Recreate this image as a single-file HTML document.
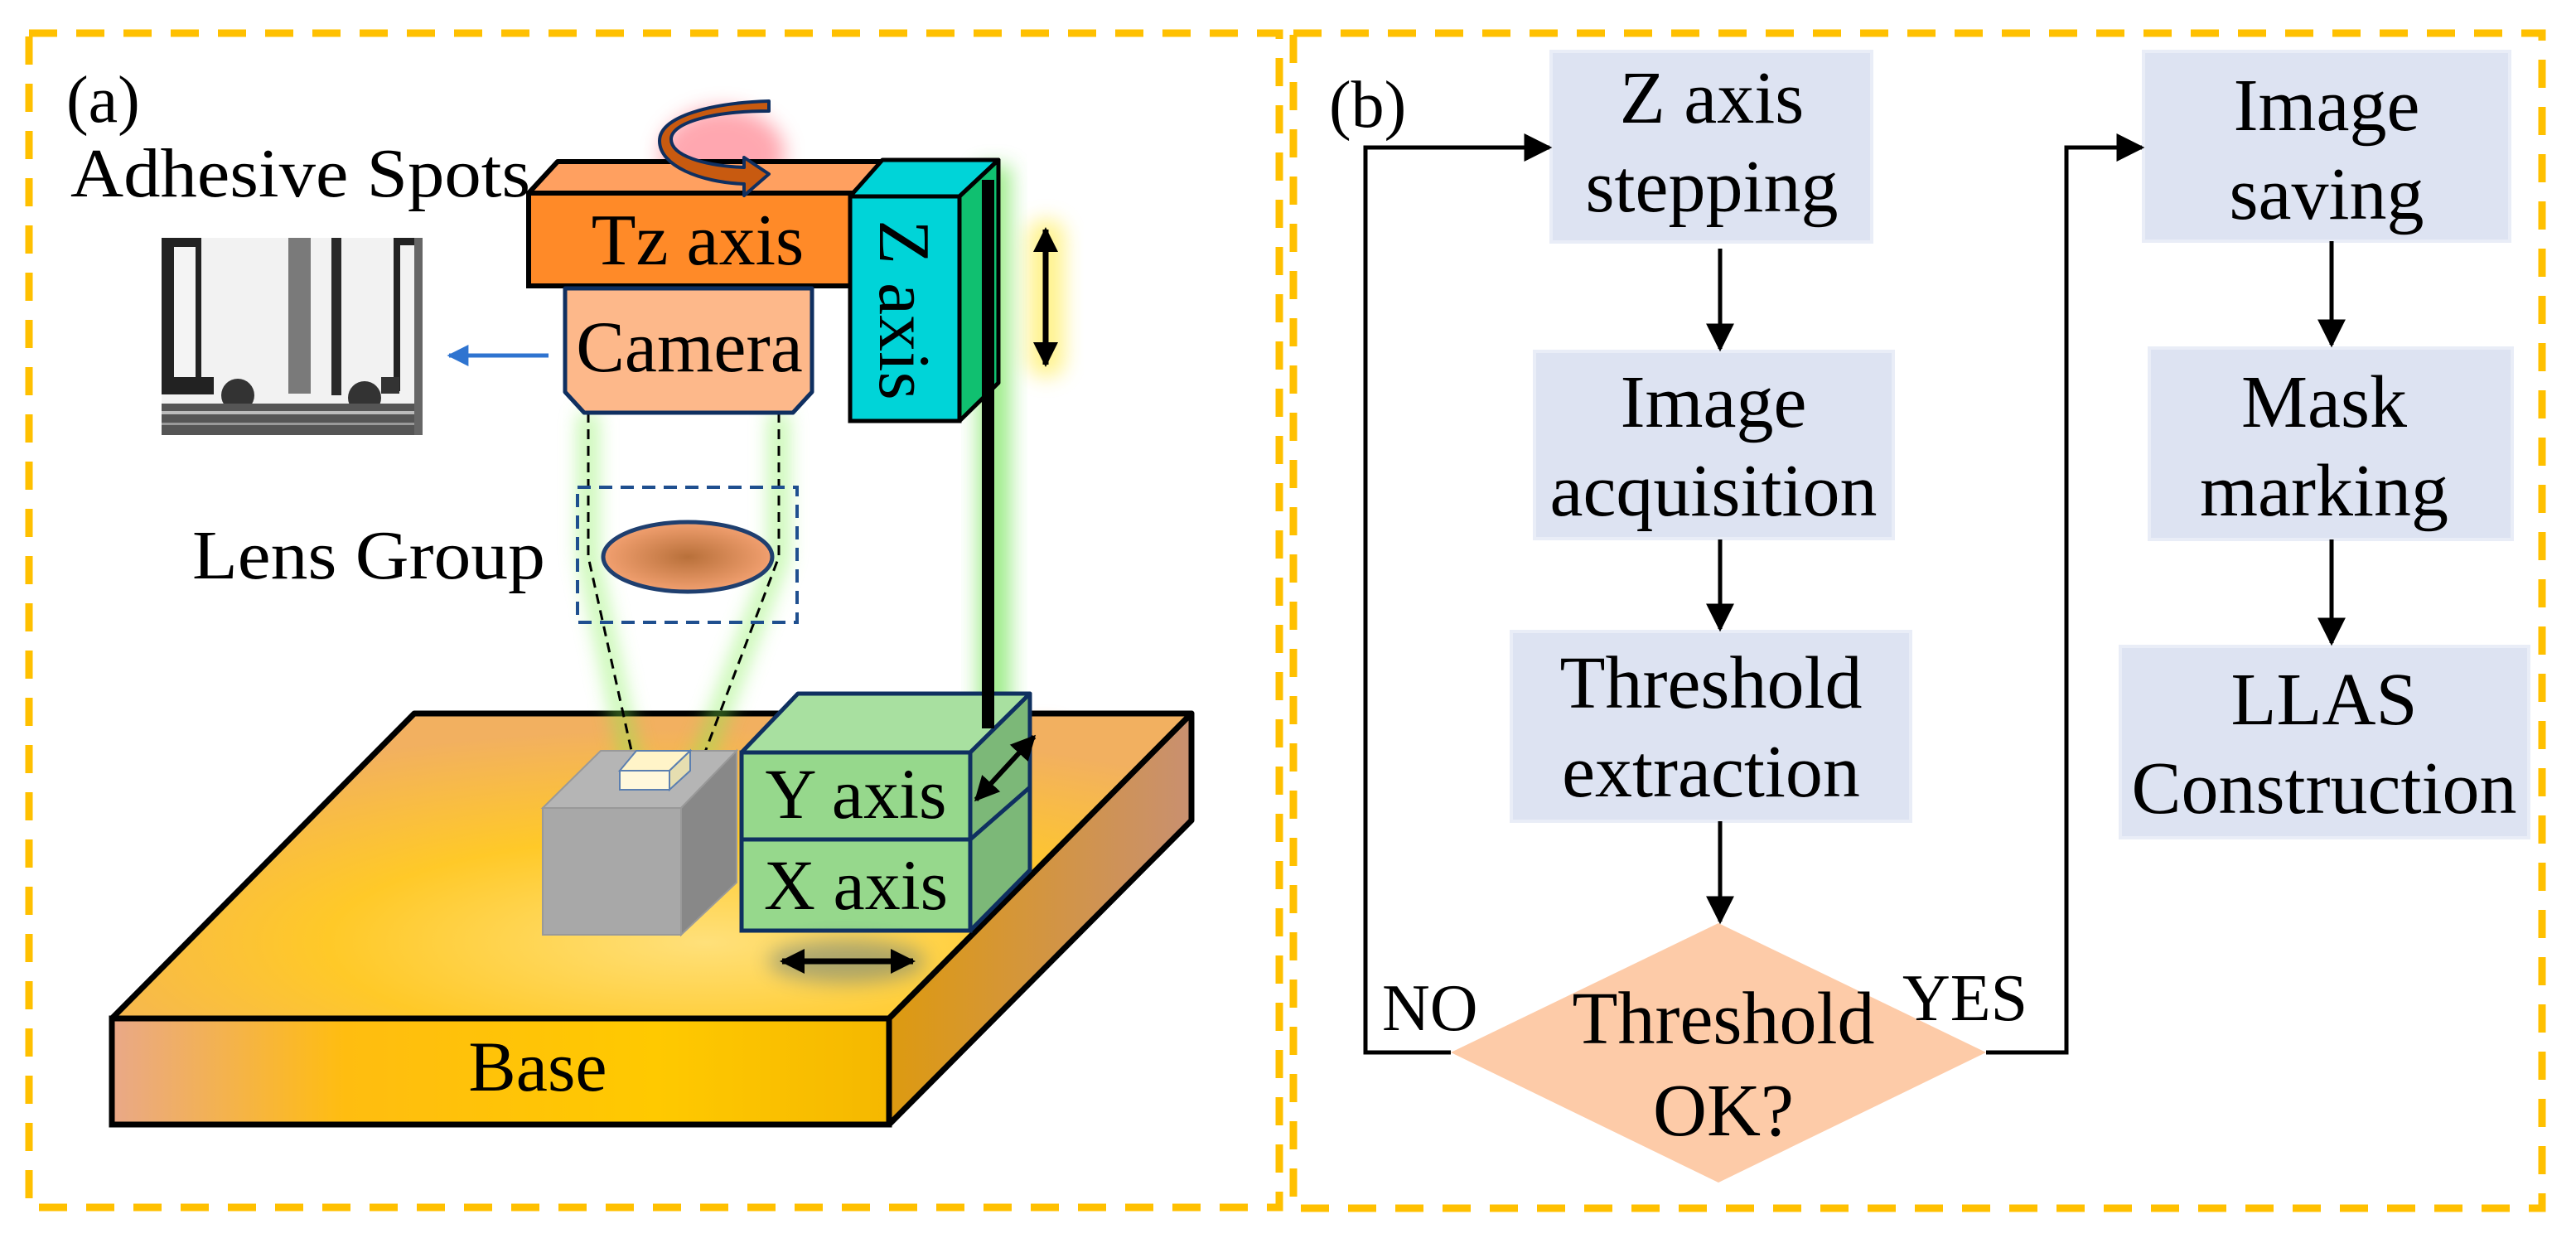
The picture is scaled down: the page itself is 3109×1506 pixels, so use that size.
<!DOCTYPE html>
<html><head><meta charset="utf-8"><style>
html,body{margin:0;padding:0;background:#fff;}
svg{display:block;}
svg text{font-family:"Liberation Serif","Times New Roman",serif !important;fill:#000;}
</style></head><body>
<svg width="3109" height="1506" viewBox="0 0 3109 1506" xmlns="http://www.w3.org/2000/svg" font-family="'Liberation Serif', serif">
<defs>
<marker id="ab" viewBox="0 0 10 10" refX="9" refY="5" markerWidth="30" markerHeight="30" orient="auto-start-reverse" markerUnits="userSpaceOnUse"><path d="M0,0 L10,5 L0,10 z" fill="#000"/></marker>
<marker id="af" viewBox="0 0 10 10" refX="9" refY="5" markerWidth="34" markerHeight="34" orient="auto" markerUnits="userSpaceOnUse"><path d="M0,0 L10,5 L0,10 z" fill="#000"/></marker>
<marker id="ablue" viewBox="0 0 10 10" refX="9" refY="5" markerWidth="26" markerHeight="26" orient="auto" markerUnits="userSpaceOnUse"><path d="M0,0 L10,5 L0,10 z" fill="#2f74d0"/></marker>
<radialGradient id="gtop" cx="0.55" cy="0.75" r="0.7"><stop offset="0" stop-color="#ffe07a"/><stop offset="0.5" stop-color="#ffc928"/><stop offset="1" stop-color="#f2b060"/></radialGradient>
<linearGradient id="gfront" x1="0" x2="1"><stop offset="0" stop-color="#e9a888"/><stop offset="0.3" stop-color="#ffbd10"/><stop offset="0.7" stop-color="#ffc900"/><stop offset="1" stop-color="#f5b800"/></linearGradient>
<linearGradient id="gside" x1="0" x2="1"><stop offset="0" stop-color="#dd9a10"/><stop offset="1" stop-color="#c99070"/></linearGradient>
<radialGradient id="glens"><stop offset="0" stop-color="#b8703a"/><stop offset="1" stop-color="#f2a070"/></radialGradient>
<filter id="glow" x="-50%" y="-50%" width="200%" height="200%"><feGaussianBlur stdDeviation="12"/></filter>
</defs>

<rect x="35" y="40" width="1509" height="1417" fill="none" stroke="#ffc000" stroke-width="9" stroke-dasharray="34 23"/>
<rect x="1561" y="40" width="1507" height="1418" fill="none" stroke="#ffc000" stroke-width="9" stroke-dasharray="34 23"/>

<!-- ===== Panel (a) ===== -->
<text x="80" y="147" font-size="80" font-family="Liberation Serif">(a)</text>
<text x="85" y="237" font-size="84" font-family="Liberation Serif" textLength="555" lengthAdjust="spacingAndGlyphs">Adhesive Spots</text>

<g>
<rect x="195" y="287" width="315" height="238" fill="#f2f2f2"/>
<rect x="195" y="287" width="48" height="189" fill="#222"/>
<rect x="210" y="298" width="26" height="168" fill="#f4f4f4"/>
<rect x="195" y="455" width="63" height="21" fill="#222"/>
<rect x="348" y="287" width="27" height="188" fill="#7a7a7a"/>
<rect x="400" y="287" width="12" height="190" fill="#2a2a2a"/>
<rect x="475" y="287" width="35" height="9" fill="#222"/>
<rect x="475" y="287" width="8" height="185" fill="#222"/>
<rect x="460" y="455" width="22" height="20" fill="#333"/>
<circle cx="287" cy="477" r="20" fill="#333"/>
<circle cx="440" cy="480" r="20" fill="#333"/>
<rect x="195" y="487" width="312" height="38" fill="#555"/>
<rect x="195" y="496" width="312" height="4" fill="#bbb"/>
<rect x="195" y="510" width="312" height="3" fill="#999"/>
<rect x="500" y="287" width="10" height="238" fill="#666"/>
</g>
<line x1="662" y1="429" x2="542" y2="429" stroke="#2f74d0" stroke-width="5" marker-end="url(#ablue)"/>

<ellipse cx="872" cy="185" rx="75" ry="55" fill="#ff6070" opacity="0.55" filter="url(#glow)"/>
<rect x="1240" y="265" width="45" height="190" rx="20" fill="#ffee60" opacity="0.7" filter="url(#glow)"/>
<rect x="1180" y="200" width="40" height="690" fill="#60e040" opacity="0.6" filter="url(#glow)"/>
<ellipse cx="1260" cy="905" rx="40" ry="30" fill="#ff8020" opacity="0.6" filter="url(#glow)"/>

<polygon points="500,861 1438,861 1073,1229 135,1229" fill="url(#gtop)" stroke="#000" stroke-width="7" stroke-linejoin="round"/>
<rect x="135" y="1229" width="938" height="128" fill="url(#gfront)" stroke="#000" stroke-width="7"/>
<polygon points="1073,1229 1438,861 1438,990 1073,1357" fill="url(#gside)" stroke="#000" stroke-width="7" stroke-linejoin="round"/>
<text x="649" y="1316" font-size="86" text-anchor="middle" font-family="Liberation Serif">Base</text>

<g stroke="#80f050" stroke-width="22" fill="none" opacity="0.5" filter="url(#glow)">
<path d="M710,498 L710,672 L765,935"/><path d="M940,498 L940,672 L840,935"/>
</g>
<g stroke="#000" stroke-width="3" fill="none" stroke-dasharray="12 8">
<path d="M710,498 L710,672 L773,955"/><path d="M940,498 L940,672 L833,955"/>
</g>

<polygon points="655,975 725,906 889,906 822,975" fill="#b5b5b5" stroke="#999" stroke-width="2"/>
<polygon points="822,975 889,906 889,1065 822,1128" fill="#888" stroke="#999" stroke-width="2"/>
<rect x="655" y="975" width="167" height="153" fill="#a8a8a8" stroke="#999" stroke-width="2"/>
<polygon points="748,930 768,906 833,906 808,930" fill="#fff4c8" stroke="#5b7fb0" stroke-width="2"/>
<polygon points="808,930 833,906 833,930 808,953" fill="#e6deb0" stroke="#5b7fb0" stroke-width="2"/>
<rect x="748" y="930" width="60" height="23" fill="#fff8dc" stroke="#5b7fb0" stroke-width="2"/>

<rect x="697" y="588" width="265" height="163" fill="none" stroke="#1f4f8f" stroke-width="4" stroke-dasharray="16 10"/>
<ellipse cx="830" cy="672" rx="102" ry="42" fill="url(#glens)" stroke="#1f3f6f" stroke-width="5"/>
<text x="232" y="698" font-size="84" font-family="Liberation Serif" textLength="426" lengthAdjust="spacingAndGlyphs">Lens Group</text>

<polygon points="895,908 963,837 1243,837 1171,908" fill="#a8e0a0" stroke="#0f3060" stroke-width="5" stroke-linejoin="round"/>
<polygon points="1171,908 1243,837 1243,1050 1171,1123" fill="#7cb878" stroke="#0f3060" stroke-width="5" stroke-linejoin="round"/>
<line x1="1171" y1="1013" x2="1243" y2="950" stroke="#0f3060" stroke-width="5"/>
<rect x="895" y="908" width="276" height="105" fill="#96d88c" stroke="#0f3060" stroke-width="5"/>
<rect x="895" y="1013" width="276" height="110" fill="#96d88c" stroke="#0f3060" stroke-width="5"/>
<text x="1033" y="987" font-size="86" text-anchor="middle" font-family="Liberation Serif">Y axis</text>
<text x="1033" y="1097" font-size="86" text-anchor="middle" font-family="Liberation Serif">X axis</text>
<line x1="1178" y1="965" x2="1248" y2="889" stroke="#000" stroke-width="6" marker-end="url(#ab)" marker-start="url(#ab)"/>
<ellipse cx="1022" cy="1160" rx="95" ry="26" fill="#4a6a80" opacity="0.45" filter="url(#glow)"/>
<line x1="944" y1="1160" x2="1102" y2="1160" stroke="#000" stroke-width="7" marker-end="url(#ab)" marker-start="url(#ab)"/>

<rect x="1185" y="217" width="15" height="662" fill="#000"/>

<polygon points="638,233 673,195 1067,195 1030,233" fill="#ffa060" stroke="#000" stroke-width="6" stroke-linejoin="round"/>
<rect x="638" y="233" width="392" height="112" fill="#ff8a28" stroke="#000" stroke-width="6"/>
<text x="842" y="319" font-size="88" text-anchor="middle" font-family="Liberation Serif">Tz axis</text>

<path d="M928,134 C860,134 810,148 810,168 C810,188 850,200 898,202 L898,190 L928,210 L898,236 L898,222 C845,220 796,200 796,170 C796,140 860,124 928,122 Z" fill="#c85a10" stroke="#0f2f60" stroke-width="4" stroke-linejoin="round"/>

<polygon points="1026,237 1065,193 1205,193 1158,237" fill="#00d4d8" stroke="#000" stroke-width="5" stroke-linejoin="round"/>
<polygon points="1158,237 1205,193 1205,462 1158,508" fill="#10c070" stroke="#000" stroke-width="5" stroke-linejoin="round"/>
<rect x="1026" y="237" width="132" height="271" fill="#00d4d8" stroke="#000" stroke-width="5"/>
<rect x="1185" y="217" width="15" height="300" fill="#000"/>
<text x="0" y="0" font-size="88" text-anchor="middle" font-family="Liberation Serif" transform="translate(1062,374) rotate(90)">Z axis</text>
<line x1="1262" y1="277" x2="1262" y2="440" stroke="#000" stroke-width="7" marker-end="url(#ab)" marker-start="url(#ab)"/>

<path d="M682,348 L980,348 L980,473 L957,498 L705,498 L682,473 Z" fill="#fdb88a" stroke="#0f2f60" stroke-width="5" stroke-linejoin="round"/>
<text x="832" y="448" font-size="88" text-anchor="middle" font-family="Liberation Serif">Camera</text>

<!-- ===== Panel (b) ===== -->
<g fill="#dde3f2" stroke="#e9edf7" stroke-width="4">
<rect x="1872" y="62" width="387" height="230"/>
<rect x="1852" y="424" width="433" height="226"/>
<rect x="1824" y="762" width="482" height="229"/>
<rect x="2587" y="62" width="442" height="229"/>
<rect x="2594" y="420" width="438" height="231"/>
<rect x="2559" y="780" width="493" height="231"/>
</g>
<polygon points="2074,1114 2397,1270 2074,1427 1751,1270" fill="#fdcba8"/>

<text x="1604" y="153" font-size="80" font-family="Liberation Serif">(b)</text>
<g font-size="90" text-anchor="middle" font-family="Liberation Serif">
<text x="2066" y="148">Z axis</text><text x="2066" y="255">stepping</text>
<text x="2068" y="515">Image</text><text x="2068" y="622">acquisition</text>
<text x="2065" y="854">Threshold</text><text x="2065" y="961">extraction</text>
<text x="2808" y="157">Image</text><text x="2808" y="264">saving</text>
<text x="2805" y="515">Mask</text><text x="2805" y="622">marking</text>
<text x="2805" y="874">LLAS</text><text x="2805" y="981">Construction</text>
<text x="2080" y="1259">Threshold</text><text x="2080" y="1370">OK?</text>
</g>
<text x="1668" y="1243" font-size="80" font-family="Liberation Serif">NO</text>
<text x="2296" y="1231" font-size="80" font-family="Liberation Serif">YES</text>

<g stroke="#000" stroke-width="5" fill="none">
<line x1="2076" y1="300" x2="2076" y2="421" marker-end="url(#af)"/>
<line x1="2076" y1="651" x2="2076" y2="759" marker-end="url(#af)"/>
<line x1="2076" y1="991" x2="2076" y2="1112" marker-end="url(#af)"/>
<line x1="2814" y1="291" x2="2814" y2="416" marker-end="url(#af)"/>
<line x1="2814" y1="651" x2="2814" y2="776" marker-end="url(#af)"/>
<polyline points="1751,1270 1648,1270 1648,178 1870,178" marker-end="url(#af)"/>
<polyline points="2397,1270 2494,1270 2494,178 2585,178" marker-end="url(#af)"/>
</g>
</svg>
</body></html>
